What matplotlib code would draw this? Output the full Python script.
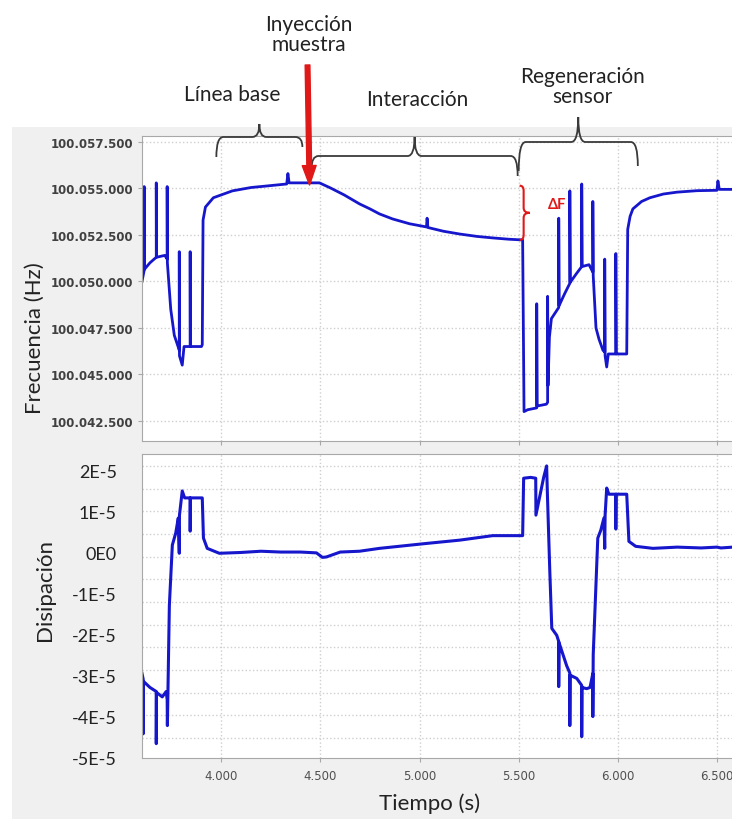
import matplotlib
matplotlib.use("Agg")
import matplotlib.pyplot as plt
from matplotlib.patches import Rectangle, PathPatch
from matplotlib.path import Path
import numpy as np

W, H = 732, 820

# frequency trace (time s, Hz)
freq_t = [3600, 3611, 3611, 3612, 3640, 3672, 3672, 3673, 3715, 3727, 3727, 3728,
          3745, 3763, 3785, 3788, 3788, 3789, 3803, 3812, 3843, 3843, 3844, 3900,
          3904, 3908, 3920, 3960, 4056, 4150, 4227, 4330, 4336, 4342, 4420, 4495,
          4550, 4620, 4697, 4750, 4798, 4864, 4950, 5035, 5038, 5042, 5120, 5202,
          5290, 5369, 5450, 5520, 5527, 5545, 5591, 5591, 5593, 5640, 5646, 5646,
          5648, 5655, 5665, 5702, 5702, 5704, 5730, 5758, 5758, 5760, 5790, 5818,
          5818, 5820, 5855, 5874, 5874, 5876, 5890, 5905, 5925, 5934, 5934, 5936,
          5944, 5952, 5990, 5990, 5992, 6045, 6050, 6062, 6076, 6120, 6162, 6230,
          6298, 6400, 6500, 6505, 6512, 6580]
freq_v = [100050.0, 100050.6, 100055.1, 100050.65, 100051.0, 100051.3, 100055.3, 100051.3,
          100051.4, 100051.2, 100055.1, 100051.0, 100048.5, 100047.1, 100046.4, 100046.3,
          100051.6, 100046.0, 100045.5, 100046.5, 100046.5, 100051.6, 100046.5, 100046.5,
          100046.6, 100053.3, 100054.0, 100054.5, 100054.87, 100055.05, 100055.13, 100055.24,
          100055.8, 100055.3, 100055.3, 100055.3, 100055.03, 100054.65, 100054.17, 100053.9,
          100053.63, 100053.36, 100053.1, 100052.93, 100053.4, 100052.9, 100052.7, 100052.55,
          100052.42, 100052.34, 100052.27, 100052.23, 100043.0, 100043.1, 100043.2, 100048.8,
          100043.3, 100043.4, 100043.5, 100049.2, 100044.4, 100047.0, 100048.0, 100048.6,
          100053.4, 100048.7, 100049.3, 100049.9, 100054.87, 100049.95, 100050.4, 100050.8,
          100055.24, 100050.8, 100050.9, 100050.5, 100054.3, 100050.3, 100047.5, 100046.9,
          100046.3, 100046.2, 100051.2, 100046.0, 100045.4, 100046.1, 100046.1, 100051.5,
          100046.1, 100046.1, 100052.8, 100053.5, 100053.9, 100054.3, 100054.5, 100054.7,
          100054.8, 100054.88, 100054.9, 100055.4, 100054.95, 100054.95]

# dissipation trace (time s, units of 1E-5)
diss_t = [3600, 3606, 3606, 3607, 3640, 3672, 3672, 3673, 3702, 3722, 3727, 3728,
          3738, 3753, 3770, 3783, 3788, 3789, 3803, 3815, 3843, 3843, 3844, 3904,
          3910, 3929, 3990, 4100, 4200, 4300, 4400, 4480, 4510, 4530, 4600, 4697,
          4798, 5035, 5202, 5369, 5520, 5525, 5560, 5586, 5587, 5626, 5641, 5645,
          5657, 5667, 5692, 5702, 5702, 5703, 5742, 5758, 5758, 5759, 5793, 5818,
          5818, 5819, 5843, 5860, 5874, 5874, 5876, 5899, 5914, 5930, 5934, 5936,
          5944, 5955, 5990, 5990, 5991, 6045, 6056, 6090, 6177, 6300, 6420, 6500,
          6520, 6580]
diss_v = [-2.96, -3.1, -4.43, -3.15, -3.3, -3.40, -4.67, -3.42, -3.53, -3.40, -3.6, -4.23,
          -1.30, 0.17, 0.46, 0.83, -0.03, 0.9, 1.49, 1.32, 1.32, 0.51, 1.32, 1.32,
          0.34, 0.09, -0.03, -0.01, 0.02, 0.0, 0.0, -0.02, -0.13, -0.12, 0.0, 0.02,
          0.09, 0.21, 0.29, 0.40, 0.40, 1.80, 1.82, 1.80, 0.90, 1.82, 2.10, 1.39,
          -0.47, -1.86, -2.03, -2.18, -3.28, -2.2, -2.77, -2.95, -4.23, -3.0, -3.08, -3.25,
          -4.50, -3.3, -3.33, -3.30, -2.96, -4.01, -2.5, 0.34, 0.53, 0.83, 0.09, 0.9,
          1.56, 1.41, 1.41, 0.56, 1.41, 1.41, 0.26, 0.14, 0.09, 0.12, 0.10, 0.12,
          0.10, 0.12]

freq_ticks = [100042.5, 100045.0, 100047.5, 100050.0, 100052.5, 100055.0, 100057.5]
freq_labels = ["100.042.500", "100.045.000", "100.047.500", "100.050.000",
               "100.052.500", "100.055.000", "100.057.500"]
diss_ticks = [-5, -4, -3, -2, -1, 0, 1, 2]
diss_labels = ["-5E-5", "-4E-5", "-3E-5", "-2E-5", "-1E-5", "0E0", "1E-5", "2E-5"]
time_ticks = [4000, 4500, 5000, 5500, 6000, 6500]
time_labels = ["4.000", "4.500", "5.000", "5.500", "6.000", "6.500"]

# brace spans (time) for the phases
phase_names = ["Línea base", "Interacción", "Regeneración\nsensor"]
phase_spans = [(3975, 4409), (4455, 5495), (5500, 6101)]
inject_t = 4440

LINE = "#1616cc"
RED = "#e01818"
GRID = "#cfcfcf"

fig = plt.figure(figsize=(W / 100, H / 100), dpi=100)
fig.patch.set_facecolor("white")
fig.patches.append(Rectangle((12 / W, 0), 1, (H - 128) / H, transform=fig.transFigure,
                             facecolor="#f0f0f0", edgecolor="none", zorder=-5))


def rect(left, top, right, bottom):
    return [left / W, 1 - bottom / H, (right - left) / W, (bottom - top) / H]


ax1 = fig.add_axes(rect(142, 137, 732, 442))
ax2 = fig.add_axes(rect(142, 455, 732, 759))

for ax in (ax1, ax2):
    ax.set_facecolor("white")
    for s in ax.spines.values():
        s.set_color("#a8a8a8")
    ax.spines["right"].set_visible(False)
    ax.set_xlim(3600, 6576)
    ax.set_xticks(time_ticks)
    ax.grid(True, which="major", axis="x", color=GRID, linestyle=":", linewidth=1)
    ax.tick_params(length=3, color="#a8a8a8")

ax1.plot(freq_t, freq_v, color=LINE, lw=2, solid_joinstyle="round")
ax1.set_ylim(100041.42, 100057.82)
ax1.set_yticks(freq_ticks)
ax1.set_yticklabels(freq_labels, fontsize=8.5, color="#404040", fontweight="bold")
ax1.set_xticklabels([])
ax1.grid(True, axis="y", color=GRID, linestyle=":", linewidth=1)

ax2.plot(diss_t, diss_v, color=LINE, lw=2.2, solid_joinstyle="round")
ax2.set_ylim(-5.02, 2.39)
ax2.set_yticks(diss_ticks)
ax2.set_yticklabels(diss_labels, fontsize=13, family="Lato", color="#222222")
ax2.tick_params(axis="y", length=0, pad=18)
ax2.set_xticklabels(time_labels, fontsize=8.5, color="#505050")
ax2.tick_params(axis="x", pad=5)
ax2.set_yticks(np.arange(2.10, -5.0, -0.553), minor=True)
ax2.tick_params(axis="y", which="minor", length=0)
ax2.grid(True, which="minor", axis="y", color=GRID, linestyle=":", linewidth=1)

fig.text(35 / W, 1 - 338 / H, "Frecuencia (Hz)", rotation=90, ha="center", va="center",
         fontsize=16, family="Lato", color="#222222")
fig.text(45 / W, 1 - 590 / H, "Disipación", rotation=90, ha="center", va="center",
         fontsize=16, family="Lato", color="#222222")
fig.text(430 / W, 1 - 804 / H, "Tiempo (s)", ha="center", va="center",
         fontsize=16, family="Lato", color="#222222")

# overlay in pixel coords for annotations
ov = fig.add_axes([0, 0, 1, 1], zorder=10)
ov.set_xlim(0, W)
ov.set_ylim(H, 0)
ov.axis("off")
ov.patch.set_alpha(0)


def tpx(t):
    return ax1.transData.transform((t, 100050))[0]


def fpx(f):
    return H - ax1.transData.transform((4000, f))[1]


def brace(x0, x1, yh, ytip, ye0, ye1, r=7, color="#3a3a3a"):
    xm = (x0 + x1) / 2
    verts = [(x0, ye0), (x0, yh), (x0 + r, yh), (xm - r, yh), (xm, yh), (xm, ytip),
             (xm, yh), (xm + r, yh), (x1 - r, yh), (x1, yh), (x1, ye1)]
    codes = [Path.MOVETO, Path.CURVE3, Path.CURVE3, Path.LINETO, Path.CURVE3, Path.CURVE3,
             Path.CURVE3, Path.CURVE3, Path.LINETO, Path.CURVE3, Path.CURVE3]
    ov.add_patch(PathPatch(Path(verts, codes), facecolor="none", edgecolor=color, lw=1.3))


brace_geom = [(138, 125, 158, 148), (157, 138, 170, 177), (143, 118, 172, 167)]
label_pos = [(232, 95), (417, 100), (582, 87)]
for name, (t0, t1), (yh, ytip, ye0, ye1), (lx, ly) in zip(phase_names, phase_spans,
                                                          brace_geom, label_pos):
    brace(tpx(t0), tpx(t1), yh, ytip, ye0, ye1)
    ov.text(lx, ly, name, ha="center", va="center", fontsize=15,
            family="Lato", color="#222222", linespacing=1.05)

# injection arrow
xi = tpx(inject_t)
ov.annotate("", xy=(xi + 1, 186), xytext=(xi - 1, 66),
            arrowprops=dict(width=3.4, headwidth=10, headlength=14, color=RED, shrink=0))
ov.text(xi, 35, "Inyección\nmuestra", ha="center", va="center", fontsize=15,
        family="Lato", color="#222222", linespacing=1.05)

# delta F bracket
xb = tpx(5525)
yt, yb = fpx(100055.15), fpx(freq_v[freq_t.index(5520)])
ym = (yt + yb) / 2
r = 5
verts = [(xb - 4, yt), (xb, yt), (xb, yt + r), (xb, ym - r), (xb, ym), (xb + 6, ym),
         (xb, ym), (xb, ym + r), (xb, yb - r), (xb, yb), (xb - 4, yb)]
codes = [Path.MOVETO, Path.CURVE3, Path.CURVE3, Path.LINETO, Path.CURVE3, Path.CURVE3,
         Path.CURVE3, Path.CURVE3, Path.LINETO, Path.CURVE3, Path.CURVE3]
ov.add_patch(PathPatch(Path(verts, codes), facecolor="none", edgecolor=RED, lw=1.5))
ov.text(xb + 33, yt + 18, "ΔF", ha="center", va="center", fontsize=10.5,
        family="Lato", fontweight="bold", color=RED)

fig.savefig("out.png", dpi=100)
